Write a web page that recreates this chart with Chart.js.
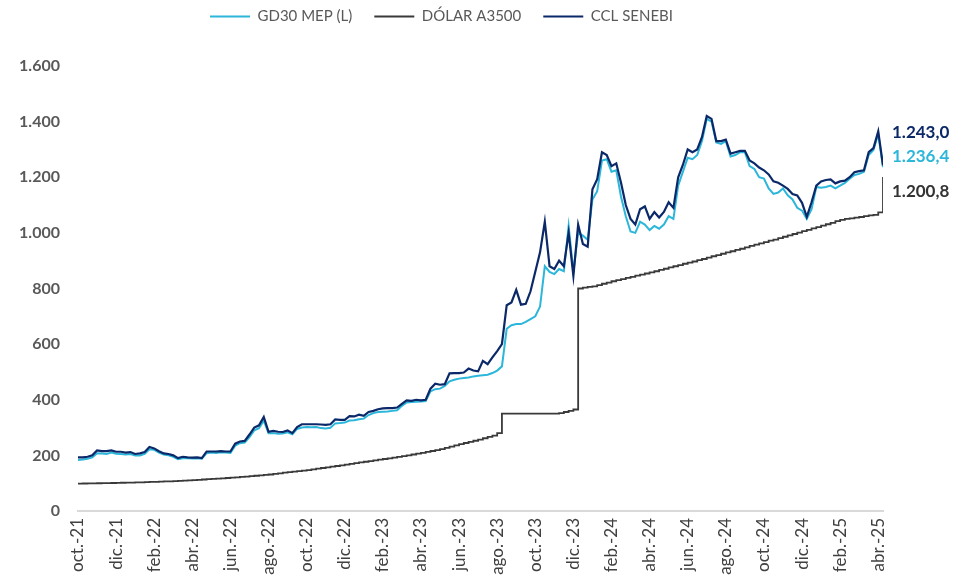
<!DOCTYPE html>
<html>
<head>
<meta charset="utf-8">
<script src="https://cdn.jsdelivr.net/npm/chart.js@4.4.1/dist/chart.umd.min.js"></script>
<style>
  html, body { margin: 0; padding: 0; background: #fff; }
</style>
</head>
<body>
<canvas id="lineChart" width="957" height="583"></canvas>
<script>
// etiquetas del eje x (cada 2 meses, desde oct.-21)
const meses = ['oct.-21', 'dic.-21', 'feb.-22', 'abr.-22', 'jun.-22', 'ago.-22', 'oct.-22', 'dic.-22',
  'feb.-23', 'abr.-23', 'jun.-23', 'ago.-23', 'oct.-23', 'dic.-23', 'feb.-24', 'abr.-24',
  'jun.-24', 'ago.-24', 'oct.-24', 'dic.-24', 'feb.-25', 'abr.-25']

// un punto por semana aprox. (cuartos de mes desde oct.-21)
const semanas = Array.from({ length: 170 }, (_, i) => i / 4)

// cada fila = 2 meses
const gd30Mep = [
  183, 185, 188, 193, 208, 207, 205, 210,
  206, 205, 203, 205, 200, 200, 205, 222,
  220, 210, 203, 200, 195, 186, 190, 190,
  189, 190, 188, 208, 210, 209, 211, 210,
  209, 235, 244, 246, 266, 290, 298, 325,
  280, 280, 278, 279, 283, 276, 295, 300,
  302, 301, 302, 298, 297, 299, 315, 316,
  318, 325, 326, 330, 332, 345, 352, 356,
  357, 358, 360, 362, 378, 390, 392, 393,
  394, 395, 430, 438, 440, 450, 466, 472,
  476, 478, 480, 484, 486, 488, 490, 496,
  505, 520, 655, 668, 672, 672, 680, 690,
  700, 735, 880, 860, 852, 870, 862, 1025,
  860, 1000, 990, 975, 1120, 1150, 1260, 1265,
  1220, 1225, 1130, 1060, 1005, 1000, 1040, 1030,
  1010, 1025, 1015, 1030, 1060, 1050, 1170, 1220,
  1270, 1265, 1280, 1330, 1410, 1400, 1325, 1320,
  1330, 1275, 1280, 1290, 1290, 1240, 1230, 1200,
  1195, 1160, 1140, 1145, 1160, 1135, 1120, 1090,
  1080, 1050, 1085, 1165, 1162, 1165, 1170, 1160,
  1170, 1180, 1195, 1208, 1212, 1220, 1280, 1298,
  1355, 1236.4
]

const dolarA3500 = [
  98.7, 98.9, 99.1, 99.4, 99.7, 100.0, 100.4, 100.7,
  101.1, 101.5, 101.9, 102.3, 102.7, 103.2, 103.8, 104.4,
  105.0, 105.6, 106.2, 106.7, 107.3, 108.2, 109.1, 110.0,
  111.0, 112.1, 113.2, 114.4, 115.5, 116.6, 117.6, 118.7,
  119.8, 121.2, 122.5, 123.9, 125.2, 126.7, 128.2, 129.7,
  131.2, 133.4, 135.5, 137.7, 139.8, 141.7, 143.5, 145.4,
  147.3, 149.7, 152.1, 154.6, 157.0, 159.4, 161.8, 164.1,
  166.5, 169.2, 171.8, 174.5, 177.1, 179.6, 182.1, 184.5,
  187.0, 189.5, 192.1, 194.6, 197.1, 200.1, 203.1, 206.0,
  209.0, 212.4, 215.8, 219.1, 222.5, 227.0, 231.5, 235.9,
  240.4, 244.5, 248.6, 252.6, 256.7, 261.6, 266.4, 271.3,
  280.0, 350.0, 350.0, 350.0, 350.0, 350.0, 350.0, 350.0,
  350.0, 350.0, 350.0, 350.0, 350.0, 352.0, 356.0, 360.0,
  365.0, 800.0, 803.0, 806.0, 808.0, 812.0, 817.0, 821.0,
  826, 830, 834, 838, 842, 846, 850, 854,
  858, 862, 867, 871, 876, 880, 884, 889,
  893, 897, 902, 906, 911, 916, 920, 925,
  930, 934, 939, 943, 948, 953, 958, 962,
  967, 972, 976, 981, 986, 991, 996, 1001,
  1006, 1011, 1016, 1021, 1026, 1031, 1036, 1042,
  1047, 1050, 1052, 1055, 1057, 1060, 1063, 1065,
  1074, 1200.8
]

const cclSenebi = [
  193, 193, 195, 200, 218, 215, 215, 218,
  213, 213, 210, 212, 205, 207, 212, 230,
  225, 215, 207, 205, 200, 190, 195, 193,
  192, 193, 190, 214, 214, 214, 215, 214,
  214, 242, 250, 252, 275, 300, 308, 338,
  285, 288, 285, 284, 290, 280, 302, 312,
  312, 312, 312, 311, 310, 312, 329, 328,
  328, 341, 340, 346, 342, 356, 360, 366,
  369, 370, 370, 372, 385, 398, 396, 400,
  398, 400, 440, 458, 454, 456, 495, 496,
  496, 498, 512, 505, 502, 540, 528, 552,
  575, 600, 740, 750, 795, 742, 745, 790,
  860, 930, 1040, 880, 870, 900, 880, 1000,
  845, 1030, 960, 950, 1157, 1193, 1290, 1280,
  1240, 1250, 1180, 1100, 1050, 1030, 1085, 1095,
  1050, 1075, 1055, 1075, 1110, 1090, 1200, 1245,
  1300, 1290, 1300, 1345, 1420, 1410, 1330, 1330,
  1335, 1285, 1290, 1295, 1295, 1260, 1250, 1235,
  1225, 1210, 1185, 1180, 1170, 1158, 1140, 1135,
  1108, 1058, 1110, 1170, 1185, 1190, 1192, 1178,
  1185, 1188, 1200, 1218, 1222, 1225, 1290, 1305,
  1365, 1243.0
]

function formato(v, dec) {
  const partes = v.toFixed(dec).split('.')
  partes[0] = partes[0].replace(/\B(?=(\d{3})+(?!\d))/g, '.')
  return partes.join(',')
}

// valor final a la derecha de cada serie
const etiquetasFinales = {
  id: 'etiquetasFinales',
  afterDatasetsDraw(chart, args, opts) {
    const ctx = chart.ctx
    ctx.save()
    ctx.font = 'bold 17px Lato'
    ctx.textBaseline = 'middle'
    chart.data.datasets.forEach((ds, i) => {
      const meta = chart.getDatasetMeta(i)
      const pt = meta.data[meta.data.length - 1]
      const val = ds.data[ds.data.length - 1]
      ctx.fillStyle = opts.colores[i]
      ctx.fillText(formato(val, 1), pt.x + 9, pt.y + opts.desplazamientos[i])
    })
    ctx.restore()
  }
}

// mas espacio entre leyenda y grafico
const altoLeyenda = {
  id: 'altoLeyenda',
  beforeInit(chart) {
    const fitOriginal = chart.legend.fit
    chart.legend.fit = function () {
      fitOriginal.bind(chart.legend)()
      this.height += 32
    }
  }
}

const lChart = document.getElementById('lineChart').getContext('2d')
const lineChart = new Chart(lChart, {
  type: 'line',
  data: {
    labels: semanas,
    datasets: [
      {
        label: 'GD30 MEP (L)',
        data: gd30Mep,
        borderColor: '#2bb6da',
        backgroundColor: '#2bb6da',
        borderWidth: 2,
        pointRadius: 0,
        order: 1
      },
      {
        label: 'DÓLAR A3500',
        data: dolarA3500,
        borderColor: '#3a3a3a',
        backgroundColor: '#3a3a3a',
        borderWidth: 1.8,
        pointRadius: 0,
        stepped: true,
        order: 2
      },
      {
        label: 'CCL SENEBI',
        data: cclSenebi,
        borderColor: '#0b2868',
        backgroundColor: '#0b2868',
        borderWidth: 2.2,
        pointRadius: 0,
        order: 0
      }
    ]
  },
  options: {
    responsive: false,
    animation: false,
    layout: { padding: { left: 0, right: 74, top: -13, bottom: 0 } },
    plugins: {
      legend: {
        position: 'top',
        labels: {
          usePointStyle: true,
          pointStyle: 'line',
          pointStyleWidth: 40,
          color: '#595959',
          font: { family: 'Lato', size: 15 },
          padding: 22,
          sort: (a, b) => a.datasetIndex - b.datasetIndex
        }
      },
      tooltip: { enabled: false },
      etiquetasFinales: {
        colores: ['#2bb6da', '#333333', '#0b2868'],
        desplazamientos: [-11, 14, -33]
      }
    },
    scales: {
      x: {
        type: 'linear',
        min: 0,
        max: 42.25,
        grid: { display: false, drawTicks: false },
        border: { display: true, color: '#d9d9d9', width: 2 },
        afterBuildTicks: (scale) => {
          scale.ticks = meses.map((_, k) => ({ value: k * 2 }))
        },
        afterFit: (scale) => { scale.height = 72 },
        ticks: {
          autoSkip: false,
          minRotation: 90,
          maxRotation: 90,
          padding: 7,
          color: '#404040',
          font: { family: 'Lato', size: 17 },
          callback: (value) => meses[Math.round(value / 2)]
        }
      },
      y: {
        min: 0,
        max: 1600,
        grid: { display: false, drawTicks: false },
        border: { display: false },
        afterFit: (scale) => { scale.width = 78 },
        ticks: {
          stepSize: 200,
          padding: 18,
          color: '#595959',
          font: { family: 'Lato', size: 16, weight: 'bold' },
          callback: (value) => formato(value, 0)
        }
      }
    }
  },
  plugins: [etiquetasFinales, altoLeyenda]
})
</script>
</body>
</html>
